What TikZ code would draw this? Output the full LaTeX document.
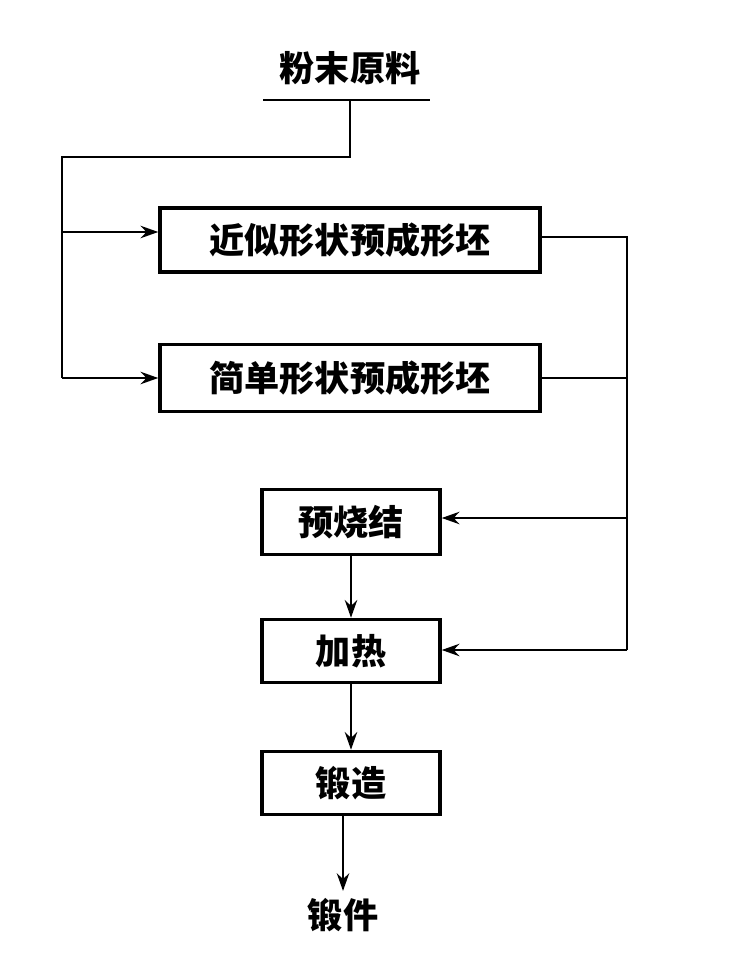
\documentclass[tikz,border=0pt]{standalone}
\usepackage{fontspec}
\newfontfamily\cjk{Noto Sans CJK SC}
\usetikzlibrary{arrows.meta}
\begin{document}
\begin{tikzpicture}[x=0.02cm,y=-0.02cm,line width=1.6pt,
  box/.style={draw,line width=2pt,inner sep=0pt,font=\cjk\bfseries\fontsize{20}{22}\selectfont},
  lab/.style={font=\cjk\bfseries\fontsize{20}{22}\selectfont},
  arr/.style={-{Stealth[length=10pt,width=7pt]}}]
\useasboundingbox (0,0) rectangle (750,956);
\node[lab] (src) at (350,68) {粉末原料};
\coordinate (ul) at (263,100); \coordinate (ur) at (430,100);
\draw (ul) -- (ur);
\coordinate (s0) at (350,100); \coordinate (s1) at (350,157);
\coordinate (s2) at (62,157); \coordinate (s3) at (62,378); \coordinate (s4) at (62,232);
\node[box,minimum width=7.6cm,minimum height=1.28cm] (b1) at (350,240) {近似形状预成形坯};
\node[box,minimum width=7.6cm,minimum height=1.34cm] (b2) at (350,378) {简单形状预成形坯};
\node[box,minimum width=3.56cm,minimum height=1.3cm] (b3) at (351,522) {预烧结};
\node[box,minimum width=3.56cm,minimum height=1.26cm] (b4) at (351,651) {加热};
\node[box,minimum width=3.56cm,minimum height=1.26cm] (b5) at (351,783) {锻造};
\node[lab] (out) at (343,915) {锻件};
\draw (s0) -- (s1) -- (s2) -- (s3);
\draw[arr] (s4) -- (s4 -| b1.west);
\draw[arr] (s3) -- (s3 -| b2.west);
\coordinate (r1) at (627,237); \coordinate (r2) at (627,378);
\coordinate (r3) at (627,518); \coordinate (r4) at (627,650);
\draw (r1 -| b1.east) -- (r1) -- (r4);
\draw (r2 -| b2.east) -- (r2);
\draw[arr] (r3) -- (r3 -| b3.east);
\draw[arr] (r4) -- (r4 -| b4.east);
\draw[arr] (b3) -- (b4);
\draw[arr] (b4) -- (b5);
\draw[arr] (b5.south -| out) -- (out);
\end{tikzpicture}
\end{document}
